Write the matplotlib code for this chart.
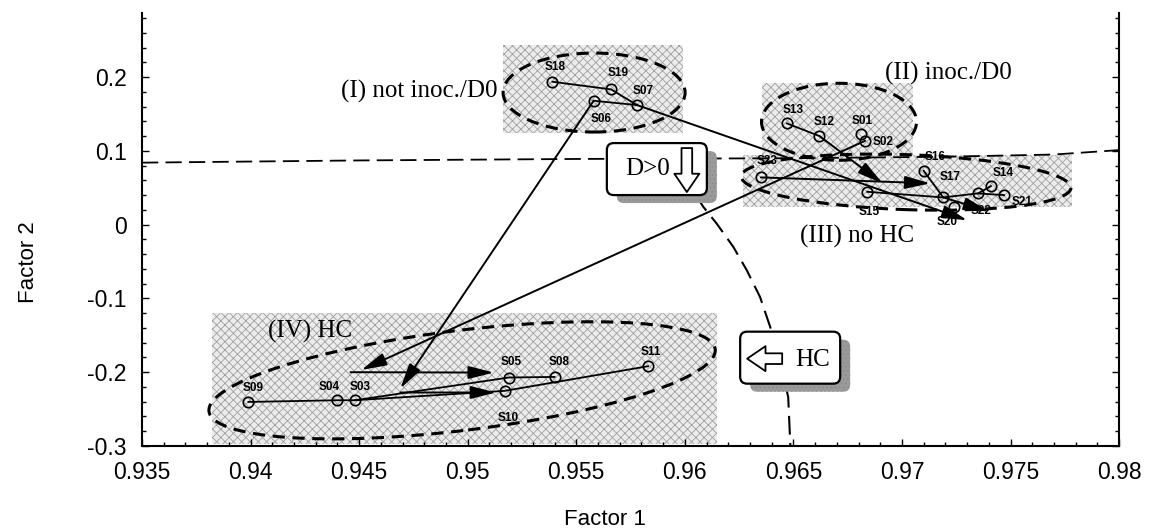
import matplotlib
matplotlib.use('Agg')
import matplotlib.pyplot as plt
import matplotlib.transforms as mtransforms
from matplotlib.patches import Ellipse, Rectangle, FancyBboxPatch
from matplotlib.ticker import FixedLocator, MultipleLocator, FuncFormatter

plt.rcParams['axes.unicode_minus'] = False
plt.rcParams['hatch.linewidth'] = 0.6

# sample scores
samples = ['S01', 'S02', 'S03', 'S04', 'S05', 'S06', 'S07', 'S08', 'S09', 'S10', 'S11', 'S12',
           'S13', 'S14', 'S15', 'S16', 'S17', 'S18', 'S19', 'S20', 'S21', 'S22', 'S23']
factor1 = [0.9681, 0.9683, 0.9448, 0.9440, 0.9519, 0.9558, 0.9578, 0.9540, 0.9399, 0.9517, 0.9583, 0.9662,
           0.9647, 0.9741, 0.9684, 0.9710, 0.9719, 0.9539, 0.9566, 0.9724, 0.9747, 0.9735, 0.9635]
factor2 = [0.1227, 0.1136, -0.238, -0.238, -0.2072, 0.1679, 0.162, -0.2064, -0.2403, -0.2253, -0.1919, 0.120,
           0.1372, 0.0522, 0.0445, 0.073, 0.0369, 0.1936, 0.1833, 0.024, 0.040, 0.0423, 0.064]

# plain connecting lines between samples
paths = [['S18', 'S19', 'S07'], ['S06', 'S07'], ['S13', 'S12'],
         ['S09', 'S04', 'S03', 'S10', 'S11'], ['S03', 'S05', 'S08'],
         ['S16', 'S17', 'S22', 'S21'], ['S15', 'S17'], ['S14', 'S22']]

# arrows leaving a sample
arrow_from = ['S07', 'S06', 'S02', 'S12', 'S23', 'S17']
arrow_to_f1 = [0.9730, 0.9469, 0.9451, 0.9691, 0.9713, 0.9740]
arrow_to_f2 = [0.006, -0.222, -0.197, 0.056, 0.056, 0.018]

# short arrows inside group IV
shift_x0 = [0.9446, 0.9469]
shift_y0 = [-0.200, -0.2275]
shift_x1 = [0.9512, 0.9513]
shift_y1 = [-0.2005, -0.2275]

# D = 0 boundary
bound_f1 = [0.935, 0.945, 0.955, 0.965, 0.972, 0.977, 0.980]
bound_f2 = [0.084, 0.087, 0.089, 0.090, 0.092, 0.095, 0.101]
arc_f1 = [0.9605, 0.96085, 0.96146, 0.96223, 0.96285, 0.96346, 0.96393, 0.9644, 0.96476, 0.96486]
arc_f2 = [0.040, 0.0241, 0.0016, -0.0301, -0.0617, -0.0979, -0.1386, -0.185, -0.2339, -0.300]

# groups: label, label pos, ellipse centre, shaded area
groups = ['(I) not inoc./D0', '(II) inoc./D0', '(III) no HC', '(IV) HC']
group_lab_f1 = [0.95135, 0.96922, 0.96531, 0.9408]
group_lab_f2 = [0.180, 0.205, -0.0165, -0.1444]
group_ha = ['right', 'left', 'left', 'left']
ell_f1 = [0.95582, 0.9671, 0.97019, 0.94974]
ell_f2 = [0.179, 0.1394, 0.0576, -0.211]
shade_f1 = [(0.95163, 0.95992), (0.96354, 0.97053), (0.96268, 0.97783), (0.93821, 0.96147)]
shade_f2 = [(0.124, 0.2434), (0.0875, 0.1915), (0.0237, 0.0942), (-0.297, -0.120)]

xticks = [0.935, 0.94, 0.945, 0.95, 0.955, 0.96, 0.965, 0.97, 0.975, 0.98]
yticks = [-0.3, -0.2, -0.1, 0, 0.1, 0.2]

# layout (pixels)
ell_size = [(182, 79, 0), (155, 77, 0), (330, 55, -2), (510, 100, 7)]
lab_off = {'S18': (3, -15), 'S19': (7, -16), 'S07': (6, -14), 'S06': (7, 18), 'S13': (6, -13),
           'S12': (5, -14), 'S01': (1, -13), 'S02': (18, 1), 'S23': (6, -16), 'S16': (11, -14),
           'S17': (7, -20), 'S14': (12, -13), 'S21': (18, 7), 'S22': (3, 18), 'S15': (2, 20),
           'S20': (-7, 15), 'S09': (5, -14), 'S04': (-8, -13), 'S03': (5, -13), 'S05': (2, -16),
           'S08': (5, -15), 'S11': (3, -14), 'S10': (4, 27)}

pos = {s: (x, y) for s, x, y in zip(samples, factor1, factor2)}

fig = plt.figure(figsize=(11.53, 5.31), dpi=100)
ax = fig.add_axes([0.1232, 0.1601, 0.8474, 0.8154])
ax.set_xlim(0.935, 0.98)
ax.set_ylim(-0.3, 0.2868)
ax.set_autoscale_on(False)

serif = 'Liberation Serif'
sans = 'Liberation Sans'
ident = mtransforms.IdentityTransform()

# shaded areas
for (xa, xb), (ya, yb) in zip(shade_f1, shade_f2):
    ax.add_patch(Rectangle((xa, ya), xb - xa, yb - ya, facecolor='#ececec', edgecolor='#a0a0a0',
                           hatch='xxxx', lw=0, zorder=1))

# boundaries
ax.plot(bound_f1, bound_f2, color='black', lw=1.3, dashes=(9, 4), zorder=2)
ax.plot(arc_f1, arc_f2, color='black', lw=1.5, dashes=(9, 4), zorder=2)

# group ellipses
for cx, cy, (w, h, a) in zip(ell_f1, ell_f2, ell_size):
    c = ax.transData.transform((cx, cy))
    ax.add_artist(Ellipse(c, w, h, angle=a, transform=ident, fill=False, ec='black',
                          lw=2.2, ls=(0, (4, 2.5)), clip_on=False, zorder=3))

for g, x, y, ha in zip(groups, group_lab_f1, group_lab_f2, group_ha):
    ax.text(x, y, g, ha=ha, va='center', fontsize=18, family=serif, zorder=6)

# trajectories
for p in paths:
    ax.plot([pos[s][0] for s in p], [pos[s][1] for s in p], color='black', lw=1.3, zorder=4)

aprops = dict(arrowstyle='-|>,head_length=1.1,head_width=0.28', color='black', lw=1.4,
              shrinkA=0, shrinkB=0, mutation_scale=14)
for s, x1, y1 in zip(arrow_from, arrow_to_f1, arrow_to_f2):
    ax.annotate('', xy=(x1, y1), xytext=pos[s], arrowprops=aprops, zorder=4)
for x0, y0, x1, y1 in zip(shift_x0, shift_y0, shift_x1, shift_y1):
    ax.annotate('', xy=(x1, y1), xytext=(x0, y0), arrowprops=aprops, zorder=4)

ax.plot(factor1, factor2, 'o', ms=7.5, mfc='none', mec='black', mew=1.2, zorder=5)
for s in samples:
    dx, dy = lab_off[s]
    ax.annotate(s, pos[s], xytext=(dx, -dy), textcoords='offset pixels', ha='center', va='center',
                fontsize=8.5, fontweight='bold', family=sans, zorder=6)

# callout boxes
def box(cx, cy):
    c = ax.transData.transform((cx, cy))
    w, h = 100, 52
    sh = FancyBboxPatch((c[0] - w / 2 + 10, c[1] - h / 2 - 8), w, h, boxstyle='round,pad=0,rounding_size=7',
                        transform=ident, fc='#9a9a9a', ec='#8a8a8a', hatch='....', lw=0, clip_on=False, zorder=7)
    bx = FancyBboxPatch((c[0] - w / 2, c[1] - h / 2), w, h, boxstyle='round,pad=0,rounding_size=7',
                        transform=ident, fc='white', ec='black', lw=1.6, clip_on=False, zorder=8)
    ax.add_artist(sh)
    ax.add_artist(bx)
    return c

def off(c, dx, dy):
    return ax.transData.inverted().transform((c[0] + dx, c[1] - dy))

block = dict(arrowstyle='simple,head_length=0.55,head_width=0.75,tail_width=0.32',
             fc='white', ec='black', lw=1.3, shrinkA=0, shrinkB=0, mutation_scale=24)

c = box(0.95871, 0.0753)
ax.text(*off(c, -9, 0), 'D>0', ha='center', va='center', fontsize=18, family=serif, zorder=9)
ax.annotate('', xy=off(c, 30, 23), xytext=off(c, 30, -21), arrowprops=block, zorder=9)

c = box(0.96485, -0.1803)
ax.text(*off(c, 22, 2), 'HC', ha='center', va='center', fontsize=18, family=serif, zorder=9)
ax.annotate('', xy=off(c, -43, 1), xytext=off(c, -8, 1), arrowprops=block, zorder=9)

# axes styling
ax.spines['top'].set_visible(False)
for sp in ['left', 'bottom', 'right']:
    ax.spines[sp].set_linewidth(1.5)
ax.xaxis.set_major_locator(FixedLocator(xticks))
ax.yaxis.set_major_locator(FixedLocator(yticks))
ax.xaxis.set_minor_locator(MultipleLocator(0.001))
ax.yaxis.set_minor_locator(MultipleLocator(0.02))
fmt = FuncFormatter(lambda v, p: '%g' % round(v, 4))
ax.xaxis.set_major_formatter(fmt)
ax.yaxis.set_major_formatter(fmt)
ax.tick_params(which='both', direction='in', right=True, top=False, width=1)
ax.tick_params(which='major', length=5, labelsize=16.5, pad=11)
ax.tick_params(which='minor', length=3)
for t in ax.get_xticklabels() + ax.get_yticklabels():
    t.set_family(sans)

ax.set_xlabel('Factor 1', fontsize=16, family=sans)
ax.set_ylabel('Factor 2', fontsize=16, family=sans)
ax.xaxis.set_label_coords(0.474, -0.145)
ax.yaxis.set_label_coords(-0.105, 0.425)

fig.savefig('out.png', dpi=100)
